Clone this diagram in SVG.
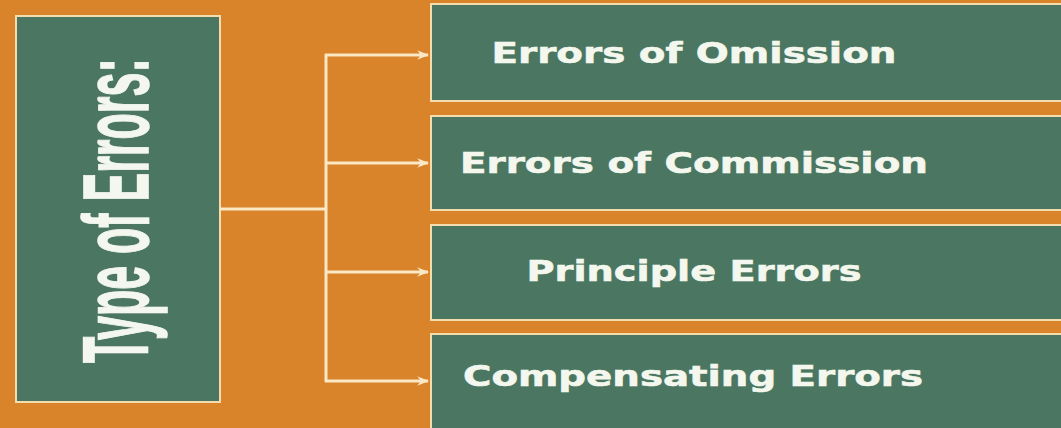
<svg xmlns="http://www.w3.org/2000/svg" width="1061" height="428" viewBox="0 0 1061 428">
  <defs>
    <style>
      .box { fill: #4b7762; stroke: #f3dcae; stroke-width: 2; }
      .label { font-family: "DejaVu Sans", "Liberation Sans", sans-serif; font-weight: bold; fill: #f4f7ee; stroke: #f4f7ee; stroke-width: 0.6; text-anchor: middle; }
      .title { font-family: "Liberation Sans", "DejaVu Sans", sans-serif; font-weight: bold; fill: #f4f7ee; stroke: #f4f7ee; stroke-width: 1.6; }
      .wire { fill: none; stroke: #fbe8c4; stroke-width: 3; }
    </style>
    <marker id="head" viewBox="0 0 10 10" refX="9" refY="5" markerWidth="4" markerHeight="4" orient="auto" markerUnits="strokeWidth">
      <path d="M0,1 L10,5 L0,9 L3,5 Z" fill="#fbe8c4"/>
    </marker>
  </defs>

  <!-- background -->
  <rect x="0" y="0" width="1061" height="428" fill="#d9832b"/>

  <!-- heading box: tall condensed title running bottom to top -->
  <g id="type-of-errors">
    <rect class="box" x="16" y="16" width="204" height="386"/>
    <text class="title" transform="translate(148,363) rotate(-90) scale(0.467,1)" font-size="92">Type of Errors:</text>
  </g>

  <!-- connectors -->
  <g id="connectors">
    <path class="wire" d="M220,209 H326"/>
    <path class="wire" d="M326,54 V382"/>
    <path class="wire" d="M325,55 H428" marker-end="url(#head)"/>
    <path class="wire" d="M325,163 H428" marker-end="url(#head)"/>
    <path class="wire" d="M325,272 H428" marker-end="url(#head)"/>
    <path class="wire" d="M325,381 H428" marker-end="url(#head)"/>
  </g>

  <!-- category boxes -->
  <g id="omission">
    <rect class="box" x="431" y="4" width="640" height="97"/>
    <text class="label" x="694" y="63" font-size="29" textLength="405" lengthAdjust="spacingAndGlyphs">Errors of Omission</text>
  </g>
  <g id="commission">
    <rect class="box" x="431" y="116" width="640" height="94"/>
    <text class="label" x="694" y="173" font-size="29" textLength="468" lengthAdjust="spacingAndGlyphs">Errors of Commission</text>
  </g>
  <g id="principle">
    <rect class="box" x="431" y="225" width="640" height="95"/>
    <text class="label" x="694" y="281" font-size="29" textLength="335" lengthAdjust="spacingAndGlyphs">Principle Errors</text>
  </g>
  <g id="compensating">
    <rect class="box" x="431" y="334" width="640" height="100"/>
    <text class="label" x="693" y="386" font-size="29" textLength="460" lengthAdjust="spacingAndGlyphs">Compensating Errors</text>
  </g>
</svg>
